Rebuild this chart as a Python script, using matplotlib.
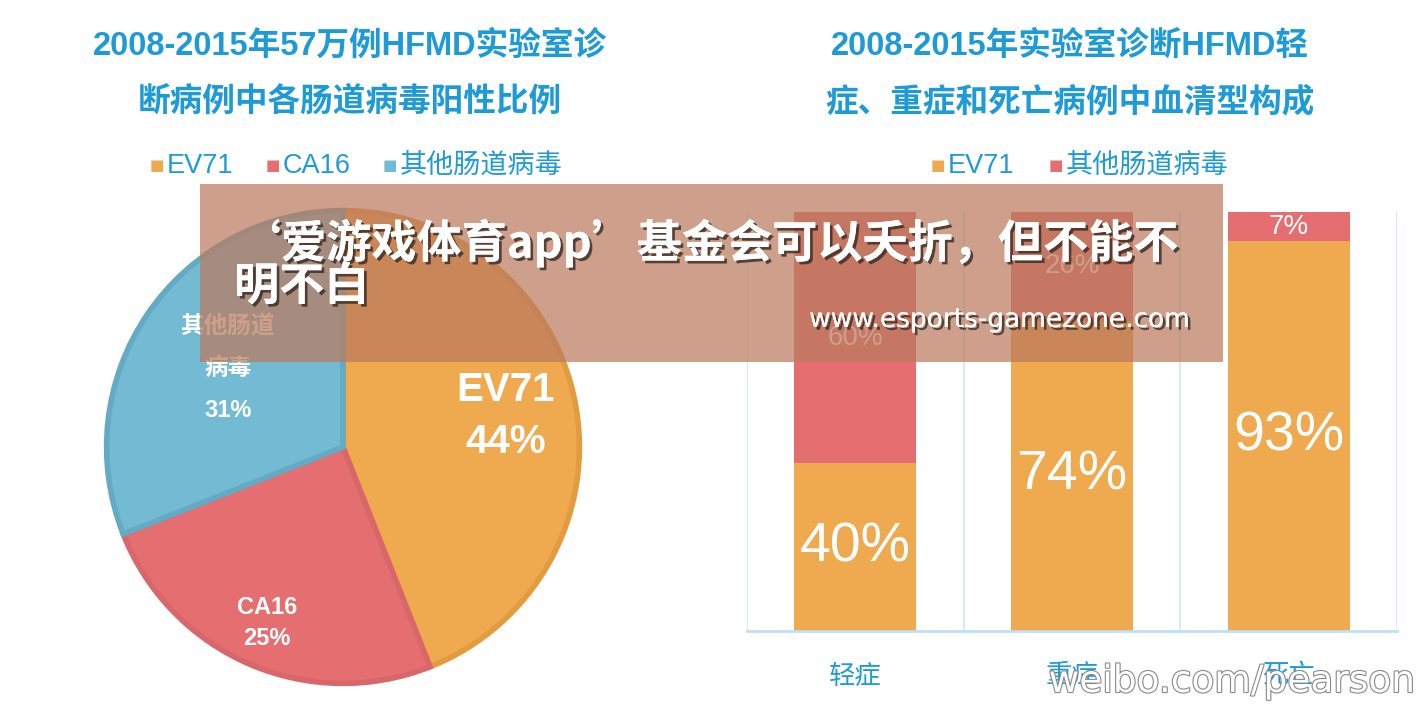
import numpy as np
import matplotlib
matplotlib.use("Agg")
import matplotlib.pyplot as plt
import matplotlib.patheffects as pe
from matplotlib.patches import Rectangle

plt.rcParams['font.family'] = ['Liberation Sans', 'Noto Sans CJK SC', 'DejaVu Sans']

# pie data
pie_names = ['EV71', 'CA16', '其他肠道病毒']
pie_labels = ['EV71', 'CA16', '其他肠道\n病毒']
pie_values = [44, 25, 31]

# stacked bar data
bar_cats = ['轻症', '重症', '死亡']
ev71_share = [40, 74, 93]
other_share = [60, 26, 7]

title_left = '2008-2015年57万例HFMD实验室诊\n断病例中各肠道病毒阳性比例'
title_right = '2008-2015年实验室诊断HFMD轻\n症、重症和死亡病例中血清型构成'
banner_line1 = '‘爱游戏体育app’基金会可以夭折，但不能不'
banner_line2 = '明不白'
banner_url = 'www.esports-gamezone.com'
watermark = 'weibo.com/pearson'

orange = '#EFA94F'
red = '#E46E70'
blue = '#73BAD3'
edge_cols = ['#E39B3F', '#D9666A', '#64AAC5']
pie_cols = [orange, red, blue]
title_col = '#1E9BD7'

W, H = 1423, 710
fig = plt.figure(figsize=(W / 100, H / 100), dpi=100)
fig.patch.set_facecolor('white')


def fx(x):
    return x / W


def fy(y):
    return 1 - y / H


# titles
fig.text(fx(350), fy(74), title_left, ha='center', va='center', color=title_col,
         fontsize=23.5, fontweight='bold', linespacing=2.0)
fig.text(fx(1070), fy(74), title_right, ha='center', va='center', color=title_col,
         fontsize=23.5, fontweight='bold', linespacing=2.0)

# legends (square + text)
def legend_row(items, x0, gap):
    x = x0
    for name, col in items:
        fig.text(fx(x), fy(166), '■', color=col, fontsize=11, ha='left', va='center',
                 family='DejaVu Sans')
        t = fig.text(fx(x + 17), fy(166), name, color=title_col, fontsize=19.5,
                     ha='left', va='center')
        fig.canvas.draw()
        bb = t.get_window_extent()
        x = x + 17 + bb.width + gap


legend_row(list(zip(pie_names, pie_cols)), 150, 32)
legend_row([('EV71', orange), ('其他肠道病毒', red)], 931, 34)

# pie
cx, cy, r = 343, 447, 240
ax_pie = fig.add_axes([fx(cx - r), fy(cy + r), 2 * r / W, 2 * r / H])
wedges, _ = ax_pie.pie(pie_values, colors=pie_cols, startangle=90, counterclock=False,
                       radius=0.985)
for w, ec in zip(wedges, edge_cols):
    w.set_edgecolor(ec)
    w.set_linewidth(4)
ax_pie.set_xlim(-1, 1)
ax_pie.set_ylim(-1, 1)
ax_pie.set_aspect('auto')
ax_pie.axis('off')

dists = [0.69, 0.8, 0.58]
sizes = [29, 17, 17]
spacing = [1.45, 1.45, 2.05]
start = 90
for lab, v, d, s, ls in zip(pie_labels, pie_values, dists, sizes, spacing):
    mid = np.deg2rad(start - v / 2 * 3.6)
    start -= v * 3.6
    ax_pie.text(d * np.cos(mid), d * np.sin(mid), f'{lab}\n{v}%', ha='center', va='center',
                color='white', fontsize=s, fontweight='bold', linespacing=ls)

# stacked bars
ax_bar = fig.add_axes([fx(747), fy(631), (1397 - 747) / W, (631 - 212) / H])
xpos = np.arange(len(bar_cats))
bw = 0.563
ax_bar.bar(xpos, ev71_share, width=bw, color=orange, zorder=2)
ax_bar.bar(xpos, other_share, bottom=ev71_share, width=bw, color=red, zorder=2)
ax_bar.set_xlim(-0.5, 2.5)
ax_bar.set_ylim(0, 100)
for xv in [-0.5, 0.5, 1.5, 2.5]:
    ax_bar.axvline(xv, color='#D3E9F6', lw=1.3, zorder=1)
for sp in ['top', 'right', 'left']:
    ax_bar.spines[sp].set_visible(False)
ax_bar.spines['bottom'].set_color('#BFE0F4')
ax_bar.spines['bottom'].set_linewidth(2)
ax_bar.set_yticks([])
ax_bar.set_xticks(xpos)
ax_bar.set_xticklabels(bar_cats, color=title_col, fontsize=19)
ax_bar.tick_params(axis='x', length=0, pad=24)

for i in range(len(bar_cats)):
    e, o = ev71_share[i], other_share[i]
    ax_bar.text(xpos[i], e / 2, f'{e}%', ha='center', va='center', color='white',
                fontsize=40, zorder=3)
    ax_bar.text(xpos[i], e + o / 2, f'{o}%', ha='center', va='center', color='white',
                fontsize=20, zorder=3)

# overlay banner
fig.patches.append(Rectangle((fx(200), fy(362)), (1223 - 200) / W, (362 - 184) / H,
                             transform=fig.transFigure, facecolor='#BB7B5E', alpha=0.72,
                             edgecolor='none', zorder=10))
shadow = [pe.withSimplePatchShadow(offset=(2, -2), shadow_rgbFace='#3a2a20', alpha=0.8),
          pe.Normal()]
fig.text(fx(236), fy(243), banner_line1, ha='left', va='center', color='white',
         fontsize=32.5, fontweight='bold', zorder=11, path_effects=shadow,
         family=['Noto Sans CJK SC', 'DejaVu Sans'])
fig.text(fx(234), fy(287), banner_line2, ha='left', va='center', color='white',
         fontsize=32.5, fontweight='bold', zorder=11, path_effects=shadow,
         family=['Noto Sans CJK SC', 'DejaVu Sans'])
fig.text(fx(1000), fy(320), banner_url, ha='center', va='center', color='white',
         fontsize=19, family='DejaVu Sans', zorder=11, path_effects=shadow)

# watermark
fig.text(fx(1415), fy(682), watermark, ha='right', va='center', color='white',
         fontsize=27, family='DejaVu Sans', zorder=12,
         path_effects=[pe.withStroke(linewidth=1.6, foreground='#888888')])

fig.savefig('out.png', dpi=100, facecolor='white')
